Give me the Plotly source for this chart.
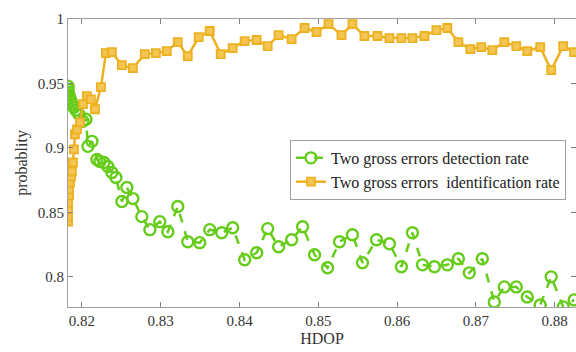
import plotly.graph_objects as go

# HDOP values and rates
ident_x = [0.81823, 0.81823, 0.81823, 0.81823, 0.81835, 0.81835, 0.81848, 0.81861, 0.81873, 0.81886,
           0.81899, 0.81911, 0.81937, 0.81975, 0.82013, 0.82063, 0.82114, 0.82165, 0.82241, 0.82304,
           0.82380, 0.82507, 0.82646, 0.82798, 0.82938, 0.83077, 0.83216, 0.83343, 0.83482, 0.83622,
           0.83761, 0.83913, 0.84065, 0.84217, 0.84357, 0.84496, 0.84661, 0.84825, 0.84977, 0.85129,
           0.85294, 0.85433, 0.85585, 0.85750, 0.85902, 0.86054, 0.86194, 0.86346, 0.86498, 0.86637,
           0.86777, 0.86929, 0.87068, 0.87208, 0.87360, 0.87512, 0.87651, 0.87816, 0.87955, 0.88107,
           0.88246]
ident_rate = [0.8428, 0.8467, 0.8521, 0.8576, 0.8630, 0.8677, 0.8731, 0.8778, 0.8817, 0.8887,
              0.8988, 0.9105, 0.9144, 0.9198, 0.9339, 0.9401, 0.9377, 0.9300, 0.9471, 0.9735,
              0.9743, 0.9642, 0.9619, 0.9728, 0.9735, 0.9751, 0.9821, 0.9712, 0.9860, 0.9907,
              0.9728, 0.9774, 0.9829, 0.9837, 0.9790, 0.9875, 0.9844, 0.9930, 0.9899, 0.9961,
              0.9875, 0.9961, 0.9868, 0.9868, 0.9852, 0.9852, 0.9852, 0.9868, 0.9914, 0.9930,
              0.9821, 0.9767, 0.9782, 0.9759, 0.9821, 0.9790, 0.9751, 0.9782, 0.9603, 0.9790,
              0.9743]

detect_x = [0.81823, 0.81823, 0.81823, 0.81835, 0.81848, 0.81861, 0.81873, 0.81899, 0.81924, 0.81962,
            0.82013, 0.82051, 0.82076, 0.82127, 0.82190, 0.82228, 0.82279, 0.82329, 0.82380, 0.82431,
            0.82507, 0.82570, 0.82646, 0.82760, 0.82862, 0.82988, 0.83090, 0.83216, 0.83343, 0.83495,
            0.83622, 0.83774, 0.83913, 0.84065, 0.84217, 0.84357, 0.84496, 0.84661, 0.84800, 0.84952,
            0.85117, 0.85269, 0.85433, 0.85560, 0.85738, 0.85902, 0.86054, 0.86194, 0.86321, 0.86473,
            0.86637, 0.86777, 0.86916, 0.87081, 0.87233, 0.87360, 0.87512, 0.87651, 0.87816, 0.87955,
            0.88107, 0.88246]
detect_rate = [0.9479, 0.9455, 0.9432, 0.9409, 0.9385, 0.9362, 0.9339, 0.9315, 0.9292, 0.9261,
               0.9206, 0.9222, 0.9012, 0.9051, 0.8911, 0.8895, 0.8887, 0.8856, 0.8809, 0.8770,
               0.8584, 0.8693, 0.8607, 0.8467, 0.8366, 0.8428, 0.8350, 0.8545, 0.8272, 0.8265,
               0.8366, 0.8342, 0.8381, 0.8132, 0.8187, 0.8374, 0.8233, 0.8288, 0.8389, 0.8171,
               0.8070, 0.8272, 0.8327, 0.8109, 0.8288, 0.8257, 0.8078, 0.8342, 0.8093, 0.8078,
               0.8093, 0.8140, 0.8031, 0.8140, 0.7805, 0.7922, 0.7922, 0.7844, 0.7782, 0.8000,
               0.7767, 0.7821]

x_ticks = [0.82, 0.83, 0.84, 0.85, 0.86, 0.87, 0.88]
x_tick_text = ["0.82", "0.83", "0.84", "0.85", "0.86", "0.87", "0.88"]
y_ticks = [0.8, 0.85, 0.9, 0.95, 1.0]
y_tick_text = ["0.8", "0.85", "0.9", "0.95", "1"]

GREEN = "#66cc1a"
ORANGE = "#edb120"
FONT = "Liberation Serif"

fig = go.Figure()
fig.add_trace(go.Scatter(
    x=detect_x, y=detect_rate, mode="lines+markers",
    name="Two gross errors detection rate",
    line=dict(color=GREEN, width=2.5, dash="dash"),
    marker=dict(symbol="circle-open", size=11, color=GREEN, line=dict(width=2.4, color=GREEN)),
))
fig.add_trace(go.Scatter(
    x=ident_x, y=ident_rate, mode="lines+markers",
    name="Two gross errors  identification rate",
    line=dict(color=ORANGE, width=2.5),
    marker=dict(symbol="square", size=8, color="#f3c553", line=dict(width=1.8, color=ORANGE)),
))

axis_common = dict(
    showline=True, linecolor="#a0a0a0", linewidth=1, mirror="ticks",
    ticks="inside", ticklen=5, tickcolor="#808080", showgrid=False, zeroline=False,
    tickfont=dict(family=FONT, size=15, color="#333333"),
)
fig.update_layout(
    width=576, height=352,
    margin=dict(l=68, r=0, t=19, b=45),
    paper_bgcolor="white", plot_bgcolor="white",
    xaxis=dict(range=[0.81823, 0.8827], tickvals=x_ticks, ticktext=x_tick_text,
               title=dict(text="HDOP", font=dict(family=FONT, size=16, color="#333333"), standoff=4),
               **axis_common),
    yaxis=dict(range=[0.7766, 1.0], tickvals=y_ticks, ticktext=y_tick_text,
               title=dict(text="probablity", font=dict(family=FONT, size=16, color="#333333"), standoff=6),
               **axis_common),
    legend=dict(x=0.437, y=0.58, xanchor="left", yanchor="top",
                bgcolor="white", bordercolor="#a0a0a0", borderwidth=1,
                font=dict(family=FONT, size=16, color="#222222"), tracegroupgap=0),
    showlegend=True,
)

fig.write_html("out.html")
